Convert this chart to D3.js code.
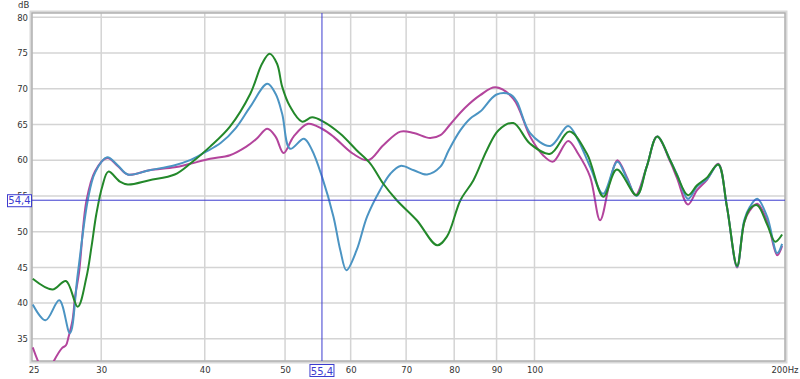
<!DOCTYPE html>
<html>
<head>
<meta charset="utf-8">
<script src="https://cdn.jsdelivr.net/npm/d3@7"></script>
<style>
body { margin: 0; background: #fff; }
text { font-family: "DejaVu Sans", Verdana, sans-serif; font-size: 8.5px; fill: #333; }
</style>
</head>
<body>
<svg id="chart" width="800" height="379"></svg>
<script>
const freqTicks = [25, 30, 40, 50, 60, 70, 80, 90, 100, 200];
const freqGrid = [30, 40, 50, 60, 70, 80, 90, 100];
const dbTicks = [35, 40, 45, 50, 55, 60, 65, 70, 75, 80];

// [Hz, dB]
const bluePts = [
    [24.8, 39.8], [25.7, 37.6], [26.7, 40.4], [27.5, 35.8], [28.1, 44], [28.9, 54.4],
    [29.5, 58.3], [30.5, 60.4], [31.4, 59.3], [32.3, 58.0], [34.3, 58.6], [36.8, 59.3],
    [38.4, 60.0], [40, 61.1], [41.8, 62.4], [43.6, 64.5], [45.4, 67.5], [47.6, 70.7],
    [48.7, 69.3], [49.6, 66.5], [50.7, 61.6], [52.7, 63.0], [53.9, 61.4], [55.4, 57.7],
    [57.2, 52.1], [58.3, 47.4], [59.3, 44.6], [61.0, 47.4], [62.8, 52.1], [65.1, 55.8],
    [67.0, 58.1], [68.9, 59.2], [71.5, 58.6], [74.2, 58.0], [77.0, 59.1], [78.8, 61.4],
    [81.4, 64.2], [83.6, 65.8], [86.0, 66.8], [90, 69.2], [93.5, 69.2], [95.2, 68.2],
    [98.8, 63.8], [104.5, 62.0], [109.8, 64.8], [112.9, 62.8], [116.7, 59.1], [121, 55.3],
    [125.9, 59.8], [129.3, 57.4], [132.8, 55.0], [136.6, 59.1], [140.6, 63.3], [145.8, 60.0],
    [148.6, 58.0], [153.2, 54.6], [157.1, 56.3], [161.6, 57.4], [166.6, 59.4], [170.7, 53.5],
    [175.6, 45.1], [179.1, 51.6], [182, 53.5], [185.7, 54.6], [190.9, 52.1], [196.3, 47.0],
    [199, 48.3]
];
const magentaPts = [
    [24.8, 33.8], [25.3, 31.3], [25.8, 29.8], [26.3, 31.9], [26.9, 33.7], [27.2, 34.1],
    [27.4, 35.3], [27.7, 37.6], [27.9, 40.9], [28.2, 44.2], [28.8, 54.4], [29.5, 58.5],
    [30.5, 60.3], [31.4, 59.2], [32.3, 58.0], [34.3, 58.6], [36.8, 59.0], [38.4, 59.5],
    [40.6, 60.2], [42.9, 60.7], [44.9, 61.9], [46.2, 63.0], [47.6, 64.4], [48.7, 63.3],
    [49.8, 61.0], [51.2, 63.3], [53.3, 65.1], [55.4, 64.4], [57.2, 63.3], [60.4, 60.9],
    [63.0, 60.0], [65.7, 62.1], [68.9, 64.0], [71.5, 63.8], [74.8, 63.1], [77, 63.5],
    [79.1, 65.0], [82.4, 67.3], [86, 69.1], [89.7, 70.2], [94.3, 68.6], [98.8, 63.3],
    [102.4, 60.7], [105.3, 59.8], [109.8, 62.7], [112.9, 60.9], [116.7, 57.7], [120, 51.6],
    [123.4, 57.2], [125.9, 60.0], [129.3, 57.6], [132.4, 55.1], [136.6, 59.1], [140.6, 63.3],
    [145.8, 59.8], [148.6, 57.5], [153.2, 53.8], [157.1, 55.8], [161.6, 57.3], [166.6, 59.5],
    [170.7, 53.5], [175.6, 45.0], [179.1, 51.3], [182, 53.0], [185.7, 53.9], [190.9, 51.5],
    [196.3, 46.7], [199, 48.0]
];
const greenPts = [
    [24.8, 43.4], [26.2, 41.9], [27.2, 43.1], [28.1, 39.5], [28.8, 43.7], [29.2, 47.9],
    [29.6, 52.5], [30.1, 56.4], [30.6, 58.4], [31.6, 57.0], [32.3, 56.6], [34.3, 57.2],
    [36.8, 58.0], [38.4, 59.5], [40.6, 61.9], [42.9, 64.7], [45.4, 69.3], [46.9, 73.5],
    [47.9, 74.9], [48.9, 73.5], [49.6, 70.3], [50.7, 67.5], [52.4, 65.4], [53.9, 66.0],
    [55.6, 65.4], [58.3, 63.7], [61.0, 61.4], [63.4, 59.5], [65.7, 56.7], [68.2, 54.4],
    [72.1, 51.6], [76.3, 48.1], [78.4, 49.3], [81.4, 54.4], [84.4, 57.2], [87.6, 61.4],
    [90.5, 64.2], [94.3, 65.2], [98.8, 62.3], [104.5, 60.9], [110.2, 64.0], [115.7, 60.9],
    [121.1, 54.9], [125.7, 58.7], [132.8, 55.1], [136.6, 59.1], [140.6, 63.3], [145.8, 60.0],
    [148.6, 57.9], [153.2, 55.1], [157.1, 56.5], [161.6, 57.6], [166.6, 59.4], [170.7, 53.5],
    [175.6, 45.2], [179.1, 51.3], [182, 53.2], [185.7, 53.7], [190.9, 51.0], [195.2, 48.6],
    [199, 49.6]
];
const cursorFreq = 55.4;
const cursorDb = 54.4;

const svg = d3.select("#chart");
const plot = {left: 32, top: 13, right: 785, bottom: 361};

const x = d3.scaleLog().domain([24.75, 200.6]).range([plot.left, plot.right]);
const y = d3.scaleLinear().domain([31.9, 80.6]).range([plot.bottom, plot.top]);

svg.append("defs").append("clipPath").attr("id", "clip")
    .append("rect")
    .attr("x", plot.left).attr("y", plot.top)
    .attr("width", plot.right - plot.left).attr("height", plot.bottom - plot.top);

// grid
const grid = svg.append("g");
grid.selectAll(".hgrid")
    .data(dbTicks)
    .enter().append("line")
    .attr("x1", plot.left).attr("x2", plot.right)
    .attr("y1", d => y(d)).attr("y2", d => y(d))
    .style("stroke", "#d4d4d4").style("stroke-width", 1.5);
grid.selectAll(".vgrid")
    .data(freqGrid)
    .enter().append("line")
    .attr("y1", plot.top).attr("y2", plot.bottom)
    .attr("x1", d => x(d)).attr("x2", d => x(d))
    .style("stroke", "#d4d4d4").style("stroke-width", 1.5);

// axes (labels only)
const yAxis = svg.append("g")
    .attr("transform", `translate(${plot.left - 4},0)`)
    .call(d3.axisLeft(y).tickValues(dbTicks).tickSize(0).tickPadding(0));
yAxis.select(".domain").remove();

const xAxis = svg.append("g")
    .attr("transform", `translate(0,${plot.bottom + 5})`)
    .call(d3.axisBottom(x).tickValues(freqTicks).tickSize(0).tickPadding(0)
        .tickFormat(d => d === 200 ? "200Hz" : d));
xAxis.select(".domain").remove();
xAxis.selectAll("text")
    .attr("dy", "0.8em")
    .attr("text-anchor", d => d === 200 ? "start" : "middle")
    .attr("dx", d => d === 200 ? -13 : (d === 25 ? -2 : 0));
svg.selectAll(".tick text").style("fill", "#333").style("font-size", "8.5px")
    .style("font-family", "\"DejaVu Sans\", Verdana, sans-serif");

svg.append("text")
    .attr("x", 18).attr("y", 8)
    .text("dB");

// frame
svg.append("rect")
    .attr("x", plot.left - 1).attr("y", plot.top - 1)
    .attr("width", plot.right - plot.left + 2).attr("height", plot.bottom - plot.top + 2)
    .style("fill", "none").style("stroke", "#d8d8d8").style("stroke-width", 3);
svg.append("rect")
    .attr("x", plot.left).attr("y", plot.top)
    .attr("width", plot.right - plot.left).attr("height", plot.bottom - plot.top)
    .style("fill", "none").style("stroke", "#a8a8a8").style("stroke-width", 1.2);

// curves
const line = d3.line()
    .x(d => x(d[0]))
    .y(d => y(d[1]))
    .curve(d3.curveCatmullRom.alpha(0.5));

const series = [
    {pts: magentaPts, color: "#b3449c"},
    {pts: bluePts, color: "#4b94c3"},
    {pts: greenPts, color: "#23882a"}
];
svg.append("g").attr("clip-path", "url(#clip)")
    .selectAll("path")
    .data(series)
    .enter().append("path")
    .attr("d", d => line(d.pts))
    .style("fill", "none")
    .style("stroke", d => d.color)
    .style("stroke-width", 2)
    .style("stroke-linejoin", "round");

// cursor
const cursorColor = "#3c3ccf";
svg.append("line")
    .attr("x1", x(cursorFreq)).attr("x2", x(cursorFreq))
    .attr("y1", plot.top).attr("y2", plot.bottom)
    .style("stroke", cursorColor).style("stroke-width", 1);
svg.append("line")
    .attr("x1", plot.left).attr("x2", plot.right)
    .attr("y1", y(cursorDb)).attr("y2", y(cursorDb))
    .style("stroke", cursorColor).style("stroke-width", 1);

const fmt = v => d3.format(".1f")(v).replace(".", ",");

svg.append("rect")
    .attr("x", 7.5).attr("y", y(cursorDb) - 5.5)
    .attr("width", 24).attr("height", 12)
    .style("fill", "#fff").style("stroke", cursorColor);
svg.append("text")
    .attr("x", 19.5).attr("y", y(cursorDb) + 3.5)
    .attr("text-anchor", "middle")
    .style("fill", cursorColor).style("font-size", "10px")
    .text(fmt(cursorDb));

svg.append("rect")
    .attr("x", x(cursorFreq) - 12).attr("y", 364.5)
    .attr("width", 24).attr("height", 12)
    .style("fill", "#fff").style("stroke", cursorColor);
svg.append("text")
    .attr("x", x(cursorFreq)).attr("y", 374.5)
    .attr("text-anchor", "middle")
    .style("fill", cursorColor).style("font-size", "10px")
    .text(fmt(cursorFreq));
</script>
</body>
</html>
